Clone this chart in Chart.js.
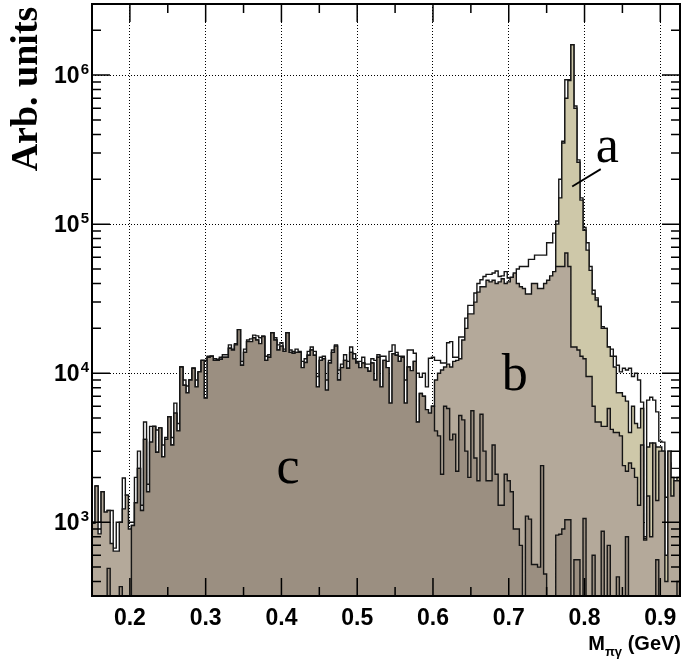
<!DOCTYPE html>
<html>
<head>
<meta charset="utf-8">
<script src="https://cdn.jsdelivr.net/npm/chart.js@4.4.0/dist/chart.umd.min.js"></script>
<style>
  html, body { margin: 0; padding: 0; background: #fff; }
  canvas { display: block; }
</style>
</head>
<body>
<canvas id="chart" width="696" height="664"></canvas>
<script>
// histogram binning (GeV), 194 bins from 0.150 to 0.926
const binStart = 0.15;
const binWidth = 0.004;

const xTicks = [0.2, 0.3, 0.4, 0.5, 0.6, 0.7, 0.8, 0.9];
const yTicks = [1e3, 1e4, 1e5, 1e6];

// measured spectrum (open histogram)
const measured = [
  1000, 1750, 1000, 1600, 1170, 1200, 1200, 670, 1000, 1000,
  1980, 1520, 1000, 1000, 2000, 3000, 1300, 4700, 1800, 4400,
  4400, 4160, 4300, 3300, 3700, 5100, 3700, 6300, 4600, 11000,
  9000, 8200, 9000, 10800, 9000, 10200, 12200, 12200, 13000, 13000,
  12500, 12400, 12800, 13300, 13300, 15500, 14500, 15800, 19600, 12000,
  14500, 16700, 17000, 18000, 17800, 17300, 17800, 13000, 13300, 18700,
  17300, 15500, 16000, 14500, 18700, 14300, 14000, 14500, 14000, 12000,
  12500, 14000, 15000, 14000, 9500, 12800, 13000, 9000, 12200, 14300,
  15500, 10500, 11500, 13300, 12000, 15000, 13500, 12000, 12000, 12800,
  11500, 11500, 12500, 12200, 13300, 13000, 13000, 12000, 14000, 15500,
  13800, 13000, 13000, 9000, 14300, 14300, 13600, 10000, 9400, 10000,
  8100, 12600, 12800, 12200, 12200, 11700, 11700, 16000, 16300, 12800,
  12800, 17500, 17500, 23400, 28500, 28500, 34500, 40000, 42400, 44500,
  46000, 46000, 47000, 48500, 44500, 45000, 48000, 43500, 42400, 46000,
  50000, 52000, 52000, 52000, 58000, 58000, 62000, 62000, 62000, 62000,
  75000, 75000, 87000, 105000, 200000, 360000, 930000, 930000, 1600000, 620000,
  270000, 150000, 95000, 75000, 52000, 36000, 32000, 28000, 20500, 20000,
  15000, 14500, 13000, 11300, 10200, 10800, 10500, 10800, 9500, 10000,
  9000, 6400, 800, 6600, 6900, 6600, 5500, 3500, 3450, 1470,
  2500, 2300, 2300, 2300
];

// component a (omega peak)
const seriesA = [
  0, 0, 0, 0, 0, 0, 0, 0, 0, 0,
  0, 0, 0, 0, 0, 0, 0, 0, 0, 0,
  0, 0, 0, 0, 0, 0, 0, 0, 0, 0,
  0, 0, 0, 0, 0, 0, 0, 0, 0, 0,
  0, 0, 0, 0, 0, 0, 0, 0, 0, 0,
  0, 0, 0, 0, 0, 0, 0, 0, 0, 0,
  0, 0, 0, 0, 0, 0, 0, 0, 0, 0,
  0, 0, 0, 0, 0, 0, 0, 0, 0, 0,
  0, 0, 0, 0, 0, 0, 0, 0, 0, 0,
  0, 0, 0, 0, 0, 0, 0, 0, 0, 0,
  0, 0, 0, 0, 0, 0, 0, 0, 0, 0,
  0, 0, 0, 0, 0, 0, 0, 0, 0, 0,
  0, 0, 0, 0, 0, 0, 0, 0, 0, 0,
  0, 0, 0, 0, 0, 0, 0, 0, 0, 0,
  0, 0, 0, 0, 0, 0, 0, 0, 0, 0,
  0, 0, 0, 100000, 150000, 350000, 700000, 920000, 1600000, 600000,
  260000, 145000, 91000, 67000, 49000, 34000, 31000, 28000, 20000, 20000,
  15000, 13000, 11000, 7400, 7400, 7000, 6500, 4000, 6000, 4600,
  4300, 5800, 780, 3200, 3400, 3300, 3200, 3200, 3000, 600,
  3000, 2000, 1300, 2000
];

// component b
const seriesB = [
  985, 1750, 835, 1600, 1170, 1200, 720, 640, 640, 1000,
  1230, 1520, 900, 950, 1350, 2300, 1200, 3600, 1600, 3450,
  4400, 2950, 4300, 2750, 3600, 5100, 3300, 5400, 4100, 11000,
  8300, 7400, 9000, 10800, 8100, 10200, 12200, 6800, 12800, 13000,
  12200, 12200, 12400, 12800, 12800, 14700, 14300, 15500, 19600, 11300,
  13800, 16300, 16300, 17300, 16700, 15800, 17600, 12200, 12800, 18700,
  16700, 14300, 15200, 14000, 18700, 13800, 13600, 13800, 13800, 10900,
  11800, 13200, 14300, 13200, 8100, 12200, 12500, 7700, 11700, 13800,
  15200, 9000, 10900, 12200, 10800, 13800, 12500, 11700, 10900, 11700,
  10900, 10300, 11700, 9000, 12800, 8100, 12200, 10900, 6300, 13500,
  13200, 12000, 12800, 6300, 11000, 10400, 12000, 4700, 7300, 7000,
  5700, 5400, 6000, 9000, 10000, 10500, 11000, 11500, 11000, 12000,
  12200, 12500, 16700, 20000, 25000, 25000, 30000, 35000, 38000, 38000,
  42000, 41000, 42000, 40000, 41000, 43000, 40000, 41000, 44000, 47000,
  40000, 38000, 37000, 34000, 34000, 40000, 40000, 37000, 37000, 40000,
  42000, 45000, 48000, 52000, 52000, 52000, 64000, 52000, 15000, 15000,
  14300, 13000, 12500, 9500, 9500, 6000, 4700, 4700, 4400, 4400,
  5800, 4200, 4000, 4000, 3800, 2400, 2200, 2500, 2300, 2000,
  1300, 3300, 760, 1500, 800, 3400, 1400, 3000, 3000, 400,
  3000, 1500, 1900, 1900
];

// component c
const seriesC = [
  0, 0, 0, 0, 0, 490, 0, 0, 0, 370,
  0, 0, 0, 950, 1350, 2300, 1200, 3600, 1600, 3450,
  4400, 2950, 4300, 2750, 3600, 5100, 3300, 5400, 4100, 11000,
  8300, 7400, 9000, 10800, 8100, 10200, 12200, 6800, 12800, 13000,
  12200, 12200, 12400, 12800, 12800, 14700, 14300, 15500, 19600, 11300,
  13800, 16300, 16300, 17300, 16700, 15800, 17600, 12200, 12800, 18700,
  16700, 14300, 15200, 14000, 18700, 13800, 13600, 13800, 13800, 10900,
  11800, 13200, 14300, 13200, 8100, 12200, 12500, 7700, 11700, 13800,
  15200, 9000, 10900, 12200, 10800, 13800, 12500, 11700, 10900, 11700,
  10900, 10300, 11700, 9000, 12800, 8100, 12200, 10900, 6300, 13500,
  13200, 12000, 12800, 6300, 11000, 10400, 12000, 4700, 7300, 7000,
  5700, 5400, 6000, 4100, 3800, 2100, 6000, 5800, 3570, 3900,
  2200, 5200, 4860, 3000, 2000, 5600, 2700, 1900, 5300, 3000,
  1900, 1900, 3300, 2100, 1300, 1300, 2100, 1900, 1600, 900,
  900, 700, 0, 1100, 1050, 520, 520, 500, 2400, 450,
  0, 0, 0, 820, 830, 900, 1040, 1040, 0, 560,
  560, 0, 1060, 0, 0, 600, 0, 0, 870, 0,
  700, 0, 0, 430, 0, 0, 800, 0, 0, 0,
  0, 0, 0, 0, 0, 0, 560, 0, 0, 0,
  0, 0, 0, 400
];

const peakLabels = [
  { text: 'a', x: 0.830, y: 2.6e5 },
  { text: 'b', x: 0.708, y: 7700 },
  { text: 'c', x: 0.4087, y: 1840 }
];

const Y_MIN = 320;
const Y_MAX = 3e6;
const EMPTY_BIN = 1; // drawn below the axis floor, like an empty ROOT bin
const SANS = '"Liberation Sans", Arial, sans-serif';
const SERIF = '"Liberation Serif", "Times New Roman", serif';

function histPoints(values) {
    const pts = values.map((v, i) => ({ x: binStart + i * binWidth, y: v > 0 ? v : EMPTY_BIN }));
    pts.push({ x: binStart + values.length * binWidth, y: pts[pts.length - 1].y });
    return pts;
}

function histDataset(label, values, fillColor) {
    return {
        label: label,
        data: histPoints(values),
        stepped: true,
        borderColor: '#151515',
        borderWidth: 1.4,
        backgroundColor: fillColor || 'transparent',
        fill: fillColor ? 'start' : false,
        pointRadius: 0,
        tension: 0
    };
}

// ROOT-style frame: inward ticks on all four sides, power-of-ten labels, annotations
const framePlugin = {
    id: 'framePlugin',
    afterDatasetsDraw(chart) {
        const { ctx, chartArea, scales } = chart;
        const { left, right, top, bottom } = chartArea;
        const x = scales.x, y = scales.y;
        ctx.save();
        ctx.strokeStyle = '#000';
        ctx.lineWidth = 1.5;
        ctx.beginPath();
        for (let k = 3; k * 0.05 <= 0.93; k++) {
            const px = x.getPixelForValue(k * 0.05);
            const len = k % 2 === 0 ? 18 : 9;
            ctx.moveTo(px, bottom); ctx.lineTo(px, bottom - len);
            ctx.moveTo(px, top); ctx.lineTo(px, top + len);
        }
        for (let e = 2; e <= 6; e++) {
            for (let m = 1; m <= 9; m++) {
                const v = m * Math.pow(10, e);
                if (v < Y_MIN || v > Y_MAX) continue;
                const py = y.getPixelForValue(v);
                const len = m === 1 ? 18 : 9;
                ctx.moveTo(left, py); ctx.lineTo(left + len, py);
                ctx.moveTo(right, py); ctx.lineTo(right - len, py);
            }
        }
        ctx.stroke();

        ctx.lineWidth = 2;
        ctx.strokeRect(left, top, right - left, bottom - top);

        // y labels: 10 with raised exponent
        ctx.fillStyle = '#000';
        ctx.textBaseline = 'alphabetic';
        yTicks.forEach(v => {
            const py = y.getPixelForValue(v);
            const exp = String(Math.round(Math.log10(v)));
            ctx.font = 'bold 15px ' + SANS;
            const we = ctx.measureText(exp).width;
            ctx.textAlign = 'right';
            ctx.fillText(exp, left - 3, py - 1);
            ctx.font = 'bold 23px ' + SANS;
            ctx.fillText('10', left - 4 - we, py + 8);
        });

        // y axis title, rotated, near the top
        ctx.save();
        ctx.translate(27, 89);
        ctx.rotate(-Math.PI / 2);
        ctx.font = 'bold 38px ' + SERIF;
        ctx.textAlign = 'center';
        ctx.textBaseline = 'middle';
        ctx.fillText('Arb. units', 0, 0);
        ctx.restore();

        // a/b/c labels and the pointer line for "a"
        ctx.font = '52px ' + SERIF;
        ctx.textAlign = 'center';
        ctx.textBaseline = 'alphabetic';
        peakLabels.forEach(l => {
            ctx.fillText(l.text, x.getPixelForValue(l.x), y.getPixelForValue(l.y));
        });
        ctx.lineWidth = 1.8;
        ctx.beginPath();
        ctx.moveTo(x.getPixelForValue(0.8214), y.getPixelForValue(2.34e5));
        ctx.lineTo(x.getPixelForValue(0.7837), y.getPixelForValue(1.79e5));
        ctx.stroke();

        // x axis title with subscript
        const base = 650;
        const big = 'bold 20px ' + SANS;
        const small = 'bold 13px ' + SANS;
        ctx.textAlign = 'left';
        ctx.font = big;
        const wM = ctx.measureText('M').width;
        const wTail = ctx.measureText(' (GeV)').width;
        ctx.font = small;
        const wSub = ctx.measureText('\u03c0\u03b3').width;
        let cx = right + 1 - wM - wSub - wTail;
        ctx.font = big;
        ctx.fillText('M', cx, base);
        cx += wM;
        ctx.font = small;
        ctx.fillText('\u03c0\u03b3', cx, base + 6);
        cx += wSub;
        ctx.font = big;
        ctx.fillText(' (GeV)', cx, base);
        ctx.restore();
    }
};

new Chart(document.getElementById('chart'), {
    type: 'line',
    data: {
        datasets: [
            histDataset('c', seriesC, '#9b8f81'),
            histDataset('b', seriesB, '#b4a99a'),
            histDataset('a', seriesA, '#cec8a9'),
            histDataset('data', measured, null)
        ]
    },
    options: {
        responsive: false,
        animation: false,
        devicePixelRatio: 1,
        layout: { padding: { top: 4, right: 16, left: 0, bottom: 0 } },
        plugins: {
            legend: { display: false },
            tooltip: { enabled: false },
            filler: { drawTime: 'beforeDatasetDraw' }
        },
        scales: {
            x: {
                type: 'linear',
                min: binStart,
                max: binStart + measured.length * binWidth,
                afterBuildTicks: s => { s.ticks = xTicks.map(v => ({ value: v })); },
                afterFit: s => { s.height = 68; s.paddingLeft = 0; s.paddingRight = 0; },
                grid: { color: '#000', lineWidth: 1, drawTicks: false },
                border: { display: false, dash: [1, 2] },
                ticks: {
                    color: '#000', font: { family: SANS, size: 23, weight: 'bold' }, padding: 9,
                    maxRotation: 0, autoSkip: false,
                    callback: v => v.toFixed(1)
                }
            },
            y: {
                type: 'logarithmic',
                min: Y_MIN,
                max: Y_MAX,
                afterBuildTicks: s => { s.ticks = yTicks.map(v => ({ value: v })); },
                afterFit: s => { s.width = 92; s.paddingTop = 0; s.paddingBottom = 0; },
                grid: { color: '#000', lineWidth: 1, drawTicks: false },
                border: { display: false, dash: [1, 2] },
                ticks: { display: false }
            }
        }
    },
    plugins: [framePlugin]
});
</script>
</body>
</html>
